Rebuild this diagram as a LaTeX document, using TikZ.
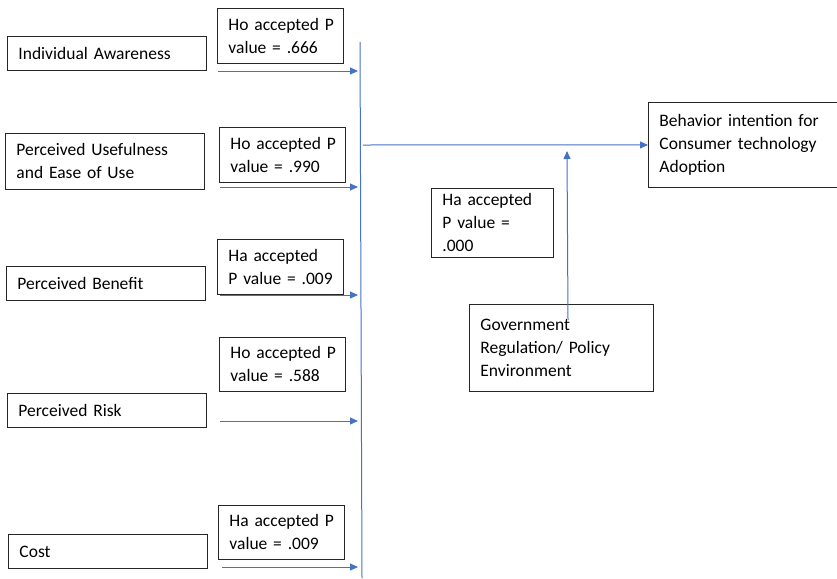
\documentclass[tikz,border=0pt]{standalone}
\usepackage{fontspec}
\setmainfont{Carlito}
\usetikzlibrary{arrows.meta}
\definecolor{linkblue}{HTML}{4472C4}
\tikzset{
	box/.style={draw=black!85, line width=0.9pt, anchor=north west, inner xsep=11pt, inner ysep=0pt, align=left, font=\fontsize{17.5}{23}\selectfont},
	factor/.style={box, minimum width=199pt, text width=177pt, minimum height=34pt},
	pbox/.style={box, minimum width=126pt, text width=104pt, minimum height=55pt},
	busline/.style={draw=linkblue, line width=1pt},
	link/.style={busline, -{Triangle[length=8pt,width=7pt]}}
}

\begin{document}
\begin{tikzpicture}[x=1pt,y=-1pt]
			\useasboundingbox (0,0) rectangle (837,578);

			\node[factor] (ind) at (7,36) {Individual Awareness};
			\node[factor, minimum height=56pt] (use) at (5,133) {Perceived Usefulness\\and Ease of Use};
			\node[factor] (ben) at (6,266) {Perceived Benefit};
			\node[factor] (risk) at (7,393) {Perceived Risk};
			\node[factor] (cost) at (8,534) {Cost};

			\node[pbox] (pind) at (217,8) {\mbox{Ho accepted P}\\\mbox{value = .666}};
			\node[pbox] (puse) at (219,127) {\mbox{Ho accepted P}\\\mbox{value = .990}};
			\node[pbox] (pben) at (217,239) {\mbox{Ha accepted}\\\mbox{P value = .009}};
			\node[pbox, minimum height=54pt] (prisk) at (219,337) {\mbox{Ho accepted P}\\\mbox{value = .588}};
			\node[pbox, minimum height=54pt] (pcost) at (218,505) {\mbox{Ha accepted P}\\\mbox{value = .009}};

			\node[box, minimum width=189pt, text width=167pt, minimum height=85pt] (beh) at (648,102) {Behavior intention for\\Consumer technology\\Adoption};
			\node[box, minimum width=122pt, text width=100pt, minimum height=69pt] (pgov) at (431,188) {\mbox{Ha accepted}\\\mbox{P value =}\\.000};
			\node[box, minimum width=184pt, text width=162pt, minimum height=87pt] (gov) at (469,304) {Government\\Regulation/ Policy\\Environment};

			\coordinate (bustop) at (360,42);
			\coordinate (busbot) at (362,578);
			\draw[busline] (bustop) -- (busbot);

			\foreach \i/\x/\y in {1/218/71, 2/220/187, 3/220/295, 4/220/421, 5/222/567}
			{
				\coordinate (in\i) at (\x,\y);
				\draw[link, shorten >=2pt] (in\i) -- (in\i -| bustop);
			}

			\coordinate (busout) at (363,145);
			\draw[link] (busout) -- (beh.west);

			\coordinate (govtail) at (568,320);
			\coordinate (govhead) at (567,151);
			\draw[link] (govtail) -- (govhead);
		\end{tikzpicture}
\end{document}
